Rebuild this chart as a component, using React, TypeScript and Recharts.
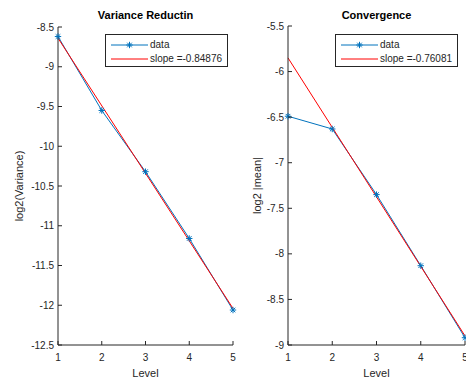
import React from 'react'
import { LineChart, Line, XAxis, YAxis, Label } from 'recharts'

const levels = [1, 2, 3, 4, 5]
const varData = [-8.62, -9.55, -10.32, -11.16, -12.06]
const meanData = [-6.49, -6.63, -7.35, -8.13, -8.92]

// fitted lines, read at their ends
const fitLevels = [1, 5]
const varFit = [-8.64, -12.04]
const meanFit = [-5.85, -8.9]

const varTicks = [-12.5, -12, -11.5, -11, -10.5, -10, -9.5, -9, -8.5]
const meanTicks = [-9, -8.5, -8, -7.5, -7, -6.5, -6, -5.5]

const BLUE = '#0072BD'
const RED = '#FF0000'
const INK = '#262626'
const FONT = '"Liberation Sans", Arial, Helvetica, sans-serif'

const Star = ({ cx, cy }: { cx: number; cy: number }) => {
  const r = 3.2
  const d = 2.3
  return (
    <g stroke={BLUE} strokeWidth={1}>
      <line x1={cx - r} y1={cy} x2={cx + r} y2={cy} />
      <line x1={cx} y1={cy - r} x2={cx} y2={cy + r} />
      <line x1={cx - d} y1={cy - d} x2={cx + d} y2={cy + d} />
      <line x1={cx - d} y1={cy + d} x2={cx + d} y2={cy - d} />
    </g>
  )
}

const XTick = (p: any) => (
  <g>
    <line x1={p.x} x2={p.x} y1={p.y} y2={p.y - 4} stroke={INK} />
    <text x={p.x} y={p.y + 16} textAnchor="middle" fontSize={10} fill={INK} fontFamily={FONT}>
      {p.payload.value}
    </text>
  </g>
)

const YTick = (p: any) => (
  <g>
    <line x1={p.x} x2={p.x + 4} y1={p.y} y2={p.y} stroke={INK} />
    <text x={p.x - 4} y={p.y + 3.5} textAnchor="end" fontSize={10} fill={INK} fontFamily={FONT}>
      {p.payload.value}
    </text>
  </g>
)

const LegendBox = ({ slope }: { slope: string }) => (
  <div
    style={{
      position: 'absolute',
      left: 105,
      top: 34,
      width: 121,
      height: 31,
      border: `1px solid ${INK}`,
      background: '#fff',
      fontFamily: FONT,
      fontSize: 10,
      color: INK,
    }}
  >
    <svg width={44} height={31} style={{ position: 'absolute', left: 0, top: 0 }}>
      <line x1={5} x2={42} y1={10} y2={10} stroke={BLUE} />
      <Star cx={23.5} cy={10} />
      <line x1={5} x2={42} y1={24} y2={24} stroke={RED} />
    </svg>
    <div style={{ position: 'absolute', left: 44, top: 4, lineHeight: '12px' }}>data</div>
    <div style={{ position: 'absolute', left: 44, top: 18, lineHeight: '12px', whiteSpace: 'nowrap' }}>
      slope ={slope}
    </div>
  </div>
)

type PanelProps = {
  left: number
  width: number
  top: number
  right: number
  values: number[]
  fit: number[]
  domain: [number, number]
  ticks: number[]
  title: string
  ylabel: string
  ylabelX: number
  slope: string
}

const Panel = (p: PanelProps) => {
  const rows = levels.map((l, i) => ({ level: l, v: p.values[i] }))
  const fitRows = fitLevels.map((l, i) => ({ level: l, f: p.fit[i] }))
  const plotCenter = 58 + (p.width - 58 - p.right) / 2
  return (
    <div style={{ position: 'absolute', left: p.left, top: 0, width: p.width, height: 384 }}>
      <div
        style={{
          position: 'absolute',
          left: plotCenter - 100,
          width: 200,
          top: 9,
          textAlign: 'center',
          fontFamily: FONT,
          fontWeight: 'bold',
          fontSize: 11,
          color: '#000',
        }}
      >
        {p.title}
      </div>
      <LineChart width={p.width} height={384} margin={{ top: p.top, right: p.right, bottom: 0, left: 0 }}>
        <XAxis
          dataKey="level"
          type="number"
          domain={[1, 5]}
          ticks={levels}
          interval={0}
          height={39}
          tickSize={0}
          tickMargin={0}
          tickLine={false}
          tick={<XTick />}
          stroke={INK}
          allowDuplicatedCategory={false}
        >
          <Label
            content={(lp: any) => {
              const vb = lp.viewBox
              return (
                <text x={vb.x + vb.width / 2} y={vb.y + 32} textAnchor="middle" fontSize={11} fill={INK} fontFamily={FONT}>
                  Level
                </text>
              )
            }}
          />
        </XAxis>
        <YAxis
          type="number"
          domain={p.domain}
          ticks={p.ticks}
          interval={0}
          width={58}
          tickSize={0}
          tickMargin={0}
          tickLine={false}
          tick={<YTick />}
          stroke={INK}
          allowDataOverflow
        >
          <Label
            content={(lp: any) => {
              const vb = lp.viewBox
              const cy = vb.y + vb.height / 2
              return (
                <text
                  x={p.ylabelX}
                  y={cy}
                  transform={`rotate(-90 ${p.ylabelX} ${cy})`}
                  textAnchor="middle"
                  dominantBaseline="central"
                  fontSize={11}
                  fill={INK}
                  fontFamily={FONT}
                >
                  {p.ylabel}
                </text>
              )
            }}
          />
        </YAxis>
        <Line
          data={rows}
          dataKey="v"
          stroke={BLUE}
          strokeWidth={1}
          dot={(d: any) => <Star key={d.index} cx={d.cx} cy={d.cy} />}
          activeDot={false}
          isAnimationActive={false}
        />
        <Line
          data={fitRows}
          dataKey="f"
          stroke={RED}
          strokeWidth={1}
          dot={false}
          activeDot={false}
          isAnimationActive={false}
        />
      </LineChart>
      <LegendBox slope={p.slope} />
    </div>
  )
}

export default function App() {
  return (
    <div style={{ position: 'fixed', left: 0, top: 0, width: 466, height: 384, background: '#fff', overflow: 'hidden' }}>
      <Panel
        left={0}
        width={240}
        top={27}
        right={7}
        values={varData}
        fit={varFit}
        domain={[-12.5, -8.5]}
        ticks={varTicks}
        title="Variance Reductin"
        ylabel="log2(Variance)"
        ylabelX={19}
        slope="-0.84876"
      />
      <Panel
        left={230}
        width={236}
        top={26}
        right={1}
        values={meanData}
        fit={meanFit}
        domain={[-9, -5.5]}
        ticks={meanTicks}
        title="Convergence"
        ylabel="log2 |mean|"
        ylabelX={27}
        slope="-0.76081"
      />
    </div>
  )
}
